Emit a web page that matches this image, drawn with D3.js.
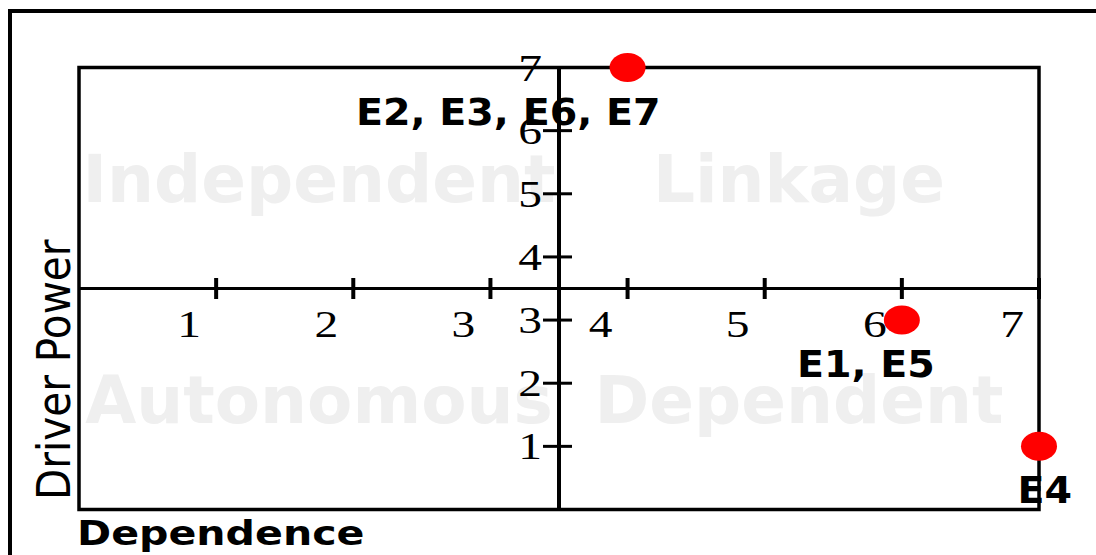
<!DOCTYPE html>
<html>
<head>
<meta charset="utf-8">
<script src="https://cdn.jsdelivr.net/npm/d3@7"></script>
<style>
  body { margin: 0; background: #fff; }
  svg { display: block; }
</style>
</head>
<body>
<div id="graph"></div>
<script>
// chart values
var quadrantNames = ["Independent", "Linkage", "Autonomous", "Dependent"]
var pointLabels = ["E2, E3, E6, E7", "E1, E5", "E4"]
var dependence = [4, 6, 7]
var driverPower = [7, 3, 1]
var xTickValues = [1, 2, 3, 4, 5, 6, 7]
var yTickValues = [1, 2, 3, 4, 5, 6, 7]
var xTitle = "Dependence"
var yTitle = "Driver Power"

var width = 1096, height = 555
var plot = {left: 79, top: 67.5, right: 1039, bottom: 509.5}

var svg = d3.select("#graph").append("svg")
    .attr("width", width)
    .attr("height", height)

var x = d3.scaleLinear().domain([0, 7]).range([plot.left, plot.right])
var y = d3.scaleLinear().domain([0, 7]).range([plot.bottom, plot.top])
var mid = 3.5

// outer frame
svg.append("rect")
    .attr("x", 10).attr("y", 11)
    .attr("width", 1110).attr("height", 570)
    .attr("fill", "none")
    .attr("stroke", "#000")
    .attr("stroke-width", 4)

// quadrant watermarks
var quads = quadrantNames.map(function(name, i) {
    var col = i % 2, row = Math.floor(i / 2)
    return {
        name: name,
        cx: col == 0 ? (x(0) + x(mid)) / 2 : (x(mid) + x(7)) / 2,
        cy: row == 0 ? (y(7) + y(mid)) / 2 : (y(mid) + y(0)) / 2
    }
})

svg.append("g").attr("class", "quadrants")
    .selectAll("text")
    .data(quads)
    .enter().append("text")
    .attr("x", function(d) { return d.cx })
    .attr("y", function(d) { return d.cy + 24 })
    .attr("text-anchor", "middle")
    .attr("font-family", "DejaVu Sans")
    .attr("font-weight", "bold")
    .attr("font-size", "66px")
    .attr("fill", "#efefef")
    .text(function(d) { return d.name })

// plot frame
svg.append("rect")
    .attr("x", plot.left).attr("y", plot.top)
    .attr("width", plot.right - plot.left)
    .attr("height", plot.bottom - plot.top)
    .attr("fill", "none")
    .attr("stroke", "#000")
    .attr("stroke-width", 3.5)

// axes through the middle
svg.append("line")
    .attr("x1", x(0)).attr("x2", x(7))
    .attr("y1", y(mid)).attr("y2", y(mid))
    .attr("stroke", "#000").attr("stroke-width", 3)
svg.append("line")
    .attr("x1", x(mid)).attr("x2", x(mid))
    .attr("y1", y(0)).attr("y2", y(7))
    .attr("stroke", "#000").attr("stroke-width", 4)

// x ticks
svg.append("g").attr("class", "xticks")
    .selectAll("line")
    .data(xTickValues)
    .enter().append("line")
    .attr("x1", function(d) { return x(d) }).attr("x2", function(d) { return x(d) })
    .attr("y1", y(mid) - 10.5).attr("y2", y(mid) + 10.5)
    .attr("stroke", "#000").attr("stroke-width", 4)

svg.append("g").attr("class", "xlabels")
    .selectAll("text")
    .data(xTickValues)
    .enter().append("text")
    .attr("transform", function(d) { return "translate(" + (x(d) - 27) + "," + (y(mid) + 48) + ") scale(1.25,1)" })
    .attr("text-anchor", "middle")
    .attr("font-family", "Liberation Serif")
    .attr("font-size", "38px")
    .attr("fill", "#000")
    .text(function(d) { return d })

// y ticks
svg.append("g").attr("class", "yticks")
    .selectAll("line")
    .data(yTickValues)
    .enter().append("line")
    .attr("x1", x(mid) - 16).attr("x2", x(mid) + 13)
    .attr("y1", function(d) { return y(d) }).attr("y2", function(d) { return y(d) })
    .attr("stroke", "#000").attr("stroke-width", 3)

svg.append("g").attr("class", "ylabels")
    .selectAll("text")
    .data(yTickValues)
    .enter().append("text")
    .attr("transform", function(d) { return "translate(" + (x(mid) - 17) + "," + (y(d) + 13) + ") scale(1.25,1)" })
    .attr("text-anchor", "end")
    .attr("font-family", "Liberation Serif")
    .attr("font-size", "38px")
    .attr("fill", "#000")
    .text(function(d) { return d })

// points
var points = pointLabels.map(function(label, i) {
    return {label: label, dep: dependence[i], drv: driverPower[i]}
})

svg.append("g").attr("class", "points")
    .selectAll("ellipse")
    .data(points)
    .enter().append("ellipse")
    .attr("cx", function(d) { return x(d.dep) })
    .attr("cy", function(d) { return y(d.drv) })
    .attr("rx", 18)
    .attr("ry", 14.5)
    .attr("fill", "#ff0000")

svg.append("g").attr("class", "pointlabels")
    .selectAll("text")
    .data(points)
    .enter().append("text")
    .attr("transform", function(d) { return "translate(" + (x(d.dep) + 33) + "," + (y(d.drv) + 57) + ") scale(1.07,1)" })
    .attr("text-anchor", "end")
    .attr("font-family", "DejaVu Sans")
    .attr("font-weight", "bold")
    .attr("font-size", "37px")
    .attr("fill", "#000")
    .text(function(d) { return d.label })

// axis titles
svg.append("text")
    .attr("transform", "translate(77,545) scale(1.21,1)")
    .attr("font-family", "DejaVu Sans")
    .attr("font-weight", "bold")
    .attr("font-size", "34px")
    .attr("fill", "#000")
    .text(xTitle)

svg.append("text")
    .attr("transform", "translate(70,500) rotate(-90) scale(1,1.12)")
    .attr("font-family", "DejaVu Sans")
    .attr("font-size", "40.6px")
    .attr("fill", "#000")
    .text(yTitle)
</script>
</body>
</html>
